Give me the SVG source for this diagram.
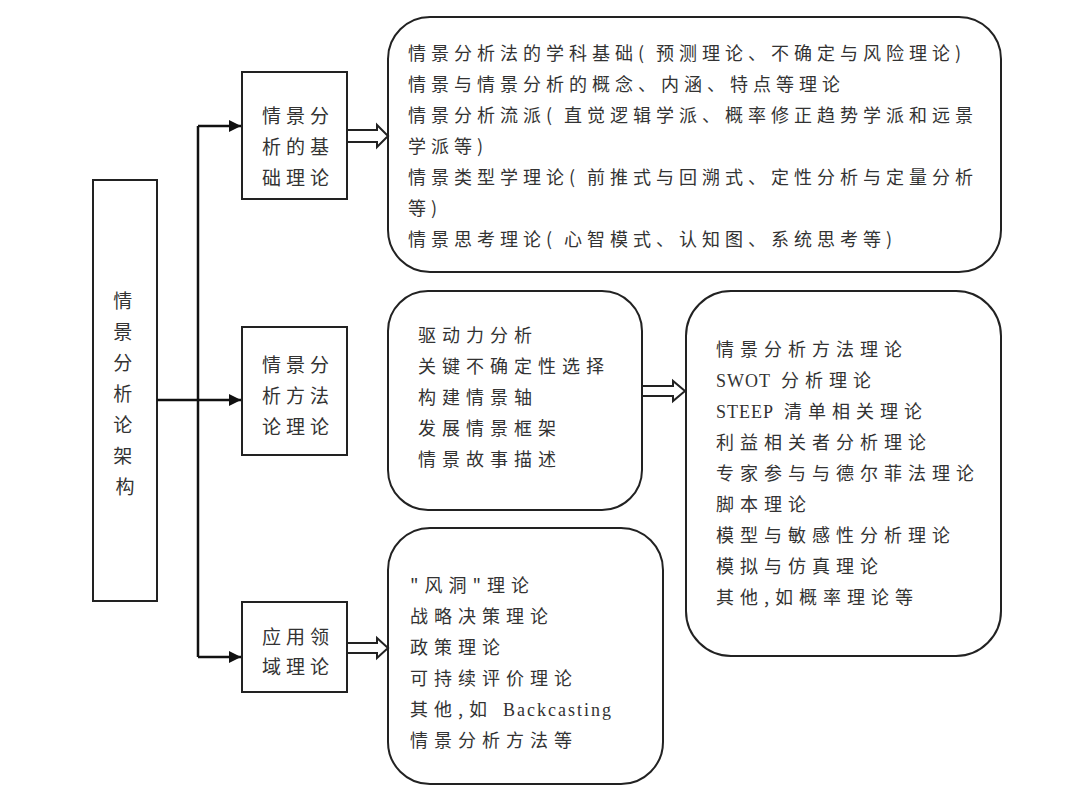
<svg xmlns="http://www.w3.org/2000/svg" width="1080" height="786" viewBox="0 0 1080 786">
<style>
.box{fill:#fff;stroke:#222;stroke-width:2}
.t{font-family:"Noto Sans CJK SC","Noto Sans",sans-serif;font-size:18px;fill:#333}
.s{font-family:"Noto Sans CJK SC","Noto Sans",sans-serif;font-size:19px;fill:#333;letter-spacing:5px}
.lat{font-family:"Liberation Serif",serif;font-size:18px}
.w1{letter-spacing:5px}
.w2{letter-spacing:6px}
.p{letter-spacing:12px}
.line{fill:none;stroke:#111;stroke-width:2.5}
.hollow{fill:#fff;stroke:#222;stroke-width:2;stroke-linejoin:miter}
</style>
<defs>
<marker id="ah" viewBox="0 0 10 10" refX="10" refY="5" markerWidth="5" markerHeight="5" markerUnits="strokeWidth" orient="auto">
<path d="M0,0 L10,5 L0,10 z" fill="#111"/>
</marker>
</defs>
<rect width="1080" height="786" fill="#fff"/>

<g id="root">
<rect class="box" x="93" y="180" width="64" height="421"/>
<text class="s" text-anchor="middle" style="letter-spacing:0">
<tspan x="125" y="308">情</tspan>
<tspan x="125" y="339">景</tspan>
<tspan x="125" y="370">分</tspan>
<tspan x="125" y="401">析</tspan>
<tspan x="125" y="432">论</tspan>
<tspan x="125" y="463">架</tspan>
<tspan x="125" y="494">构</tspan>
</text>
</g>

<g id="basis">
<rect class="box" x="242" y="72" width="105" height="127"/>
<text class="s"><tspan x="262" y="123">情景分</tspan><tspan x="262" y="154">析的基</tspan><tspan x="262" y="185">础理论</tspan></text>
</g>

<g id="method">
<rect class="box" x="242" y="327" width="105" height="128"/>
<text class="s"><tspan x="262" y="372">情景分</tspan><tspan x="262" y="403">析方法</tspan><tspan x="262" y="434">论理论</tspan></text>
</g>

<g id="application">
<rect class="box" x="242" y="602" width="105" height="90"/>
<text class="s"><tspan x="262" y="644">应用领</tspan><tspan x="262" y="674">域理论</tspan></text>
</g>

<g id="basis-detail">
<rect class="box" x="388" y="17" width="613" height="255" rx="42" ry="42"/>
<text class="t w1">
<tspan x="408" y="60">情景分析法的学科基础<tspan class="p">(</tspan>预测理论、不确定与风险理论)</tspan>
<tspan x="408" y="91">情景与情景分析的概念、内涵、特点等理论</tspan>
<tspan x="408" y="122">情景分析流派<tspan class="p">(</tspan>直觉逻辑学派、概率修正趋势学派和远景</tspan>
<tspan x="408" y="153">学派等)</tspan>
<tspan x="408" y="184">情景类型学理论<tspan class="p">(</tspan>前推式与回溯式、定性分析与定量分析</tspan>
<tspan x="408" y="215">等)</tspan>
<tspan x="408" y="246">情景思考理论<tspan class="p">(</tspan>心智模式、认知图、系统思考等)</tspan>
</text>
</g>

<g id="method-steps">
<rect class="box" x="388" y="291" width="254" height="219" rx="40" ry="40"/>
<text class="t w2">
<tspan x="418" y="342">驱动力分析</tspan>
<tspan x="418" y="373">关键不确定性选择</tspan>
<tspan x="418" y="404">构建情景轴</tspan>
<tspan x="418" y="435">发展情景框架</tspan>
<tspan x="418" y="466">情景故事描述</tspan>
</text>
</g>

<g id="method-theories">
<rect class="box" x="686" y="291" width="315" height="365" rx="45" ry="45"/>
<text class="t w2">
<tspan x="716" y="356">情景分析方法理论</tspan>
<tspan x="716" y="387"><tspan class="lat" style="letter-spacing:1px">SWOT</tspan> 分析理论</tspan>
<tspan x="716" y="418"><tspan class="lat" style="letter-spacing:1px">STEEP</tspan> 清单相关理论</tspan>
<tspan x="716" y="449">利益相关者分析理论</tspan>
<tspan x="716" y="480">专家参与与德尔菲法理论</tspan>
<tspan x="716" y="511">脚本理论</tspan>
<tspan x="716" y="542">模型与敏感性分析理论</tspan>
<tspan x="716" y="573">模拟与仿真理论</tspan>
<tspan x="716" y="604">其他,如概率理论等</tspan>
</text>
</g>

<g id="application-detail">
<rect class="box" x="388" y="528" width="275" height="256" rx="42" ry="42"/>
<text class="t w2">
<tspan x="410" y="592">"风洞"理论</tspan>
<tspan x="410" y="623">战略决策理论</tspan>
<tspan x="410" y="654">政策理论</tspan>
<tspan x="410" y="685">可持续评价理论</tspan>
<tspan x="410" y="716">其他,如 <tspan class="lat" style="letter-spacing:2px">Backcasting</tspan></tspan>
<tspan x="410" y="747">情景分析方法等</tspan>
</text>
</g>

<g id="connectors">
<path class="line" d="M198,126 L198,657"/>
<path class="line" d="M198,126 L241,126" marker-end="url(#ah)"/>
<path class="line" d="M157,400 L241,400" marker-end="url(#ah)"/>
<path class="line" d="M198,657 L241,657" marker-end="url(#ah)"/>
<polygon class="hollow" points="347,130 377,130 377,125 388,136 377,147 377,142 347,142"/>
<polygon class="hollow" points="642,386 673,386 673,381 685,391 673,401 673,396 642,396"/>
<polygon class="hollow" points="347,643 377,643 377,638 388,648 377,658 377,653 347,653"/>
</g>
</svg>
